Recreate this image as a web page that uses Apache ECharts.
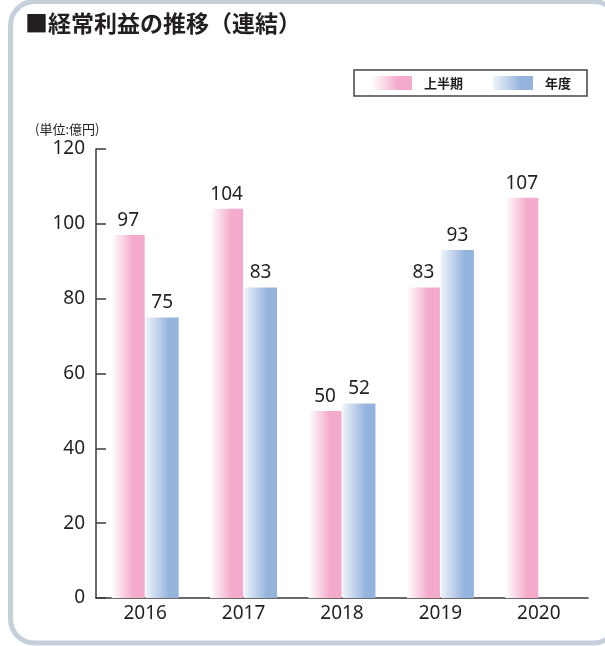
<!DOCTYPE html>
<html>
<head>
<meta charset="utf-8">
<script src="https://cdn.jsdelivr.net/npm/echarts@6/dist/echarts.min.js"></script>
<style>
  html, body { margin: 0; padding: 0; background: #fff; }
  #main { width: 605px; height: 646px; }
</style>
</head>
<body>
<div id="main"></div>
<script>
// 年度ごとの経常利益（億円）
var years = ['2016', '2017', '2018', '2019', '2020'];
var halfData = [97, 104, 50, 83, 107];      // 上半期
var fullData = [75, 83, 52, 93, '-'];       // 年度（2020はまだ無し）
var yTicks = [0, 20, 40, 60, 80, 100, 120];

var chart = echarts.init(document.getElementById('main'));

var pinkGrad = new echarts.graphic.LinearGradient(0, 0, 1, 0, [
    {offset: 0, color: '#ffffff'},
    {offset: 0.65, color: '#f4aacb'},
    {offset: 1, color: '#f4aacb'}
]);
var blueGrad = new echarts.graphic.LinearGradient(0, 0, 1, 0, [
    {offset: 0, color: '#eef3fa'},
    {offset: 0.7, color: '#95b4dd'},
    {offset: 1, color: '#95b4dd'}
]);

var font = '"Noto Sans", "Noto Sans CJK JP", sans-serif';
var axisColor = '#3a3a3a';

var option = {
    animation: false,
    textStyle: {fontFamily: font, color: '#231f20'},
    title: {
        text: '■経常利益の推移（連結）',
        left: 25,
        top: 12,
        padding: 0,
        textStyle: {
            fontFamily: '"Noto Sans CJK JP", sans-serif',
            fontSize: 23,
            fontWeight: 'bold',
            color: '#231f20'
        }
    },
    legend: {
        data: ['上半期', '年度'],
        left: 354,
        top: 70,
        padding: [6, 16, 6, 18],
        itemWidth: 40,
        itemHeight: 14,
        itemGap: 30,
        borderColor: '#444',
        borderWidth: 1.5,
        borderRadius: 0,
        selectedMode: false,
        icon: 'rect',
        textStyle: {
            fontFamily: '"Noto Sans CJK JP", sans-serif',
            fontSize: 13,
            fontWeight: 'bold',
            color: '#231f20',
            padding: [0, 0, 0, 7]
        }
    },
    graphic: [
        {
            type: 'rect',
            silent: true,
            z: -1,
            shape: {x: 10.5, y: 1.5, width: 607, height: 641.5, r: 24},
            style: {fill: 'none', stroke: '#c5d0db', lineWidth: 5}
        },
        {
            type: 'text',
            left: 35,
            top: 123,
            style: {
                text: '(単位:億円)',
                font: '13px "Noto Sans CJK JP", sans-serif',
                fill: '#231f20'
            }
        }
    ],
    grid: {left: 96, right: 17, top: 149, bottom: 48, containLabel: false},
    xAxis: {
        type: 'category',
        data: years,
        axisLine: {lineStyle: {color: axisColor, width: 1.5}},
        axisTick: {inside: true, length: 12, lineStyle: {color: axisColor, width: 1.5}},
        axisLabel: {fontSize: 19, color: '#231f20', margin: 6, fontFamily: font}
    },
    yAxis: {
        type: 'value',
        min: yTicks[0],
        max: yTicks[yTicks.length - 1],
        interval: 20,
        splitLine: {show: false},
        axisLine: {show: true, lineStyle: {color: axisColor, width: 1.5}},
        axisTick: {show: true, inside: true, length: 10, lineStyle: {color: axisColor, width: 1.5}},
        axisLabel: {fontSize: 19, color: '#231f20', margin: 11, fontFamily: font}
    },
    series: [
        {
            name: '上半期',
            type: 'bar',
            barWidth: 33,
            barGap: '3%',
            itemStyle: {color: pinkGrad},
            label: {show: true, position: 'top', fontSize: 19, color: '#231f20', fontFamily: font},
            data: halfData
        },
        {
            name: '年度',
            type: 'bar',
            barWidth: 33,
            barGap: '3%',
            itemStyle: {color: blueGrad},
            label: {show: true, position: 'top', fontSize: 19, color: '#231f20', fontFamily: font},
            data: fullData
        }
    ]
};
chart.setOption(option);
</script>
</body>
</html>
